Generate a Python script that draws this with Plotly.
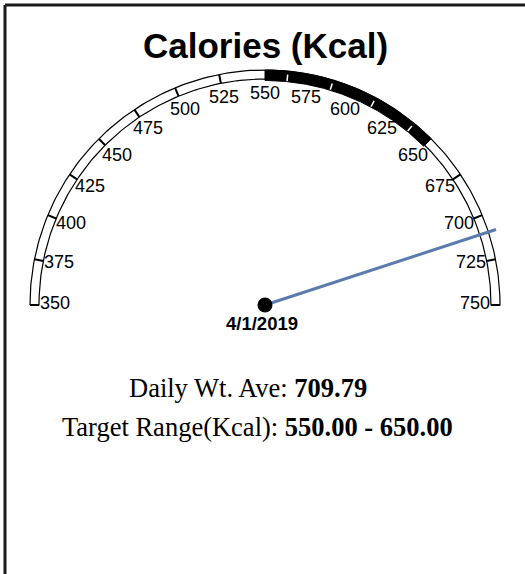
import math
import plotly.graph_objects as go

# ---- data ----
title_text = "Calories (Kcal)"
scale_min = 350
scale_max = 750
tick_values = [350, 375, 400, 425, 450, 475, 500, 525, 550, 575, 600, 625, 650, 675, 700, 725, 750]
tick_labels = ["350", "375", "400", "425", "450", "475", "500", "525", "550", "575", "600", "625", "650", "675", "700", "725", "750"]
target_range = [550, 650]
target_ticks = [562.5, 587.5, 612.5, 637.5]
daily_value = 709.79
date_label = "4/1/2019"

# ---- layout geometry (pixel space) ----
W, H = 525, 574
CX, CY = 265, 305
R_OUT, R_IN = 235, 226
R_IN_TARGET = 224.5
R_LABEL = 210
R_NEEDLE = 243


def ang(v):
    return math.pi * (1 - (v - scale_min) / (scale_max - scale_min))


def pt(v, r):
    a = ang(v)
    return CX + r * math.cos(a), CY - r * math.sin(a)


def arc(v0, v1, r, n=200):
    xs, ys = [], []
    for i in range(n + 1):
        v = v0 + (v1 - v0) * i / n
        x, y = pt(v, r)
        xs.append(x)
        ys.append(y)
    return xs, ys


fig = go.Figure()

# outer band (white with black outline)
ox, oy = arc(scale_min, scale_max, R_OUT)
ix, iy = arc(scale_max, scale_min, R_IN)
fig.add_trace(go.Scatter(x=ox + ix + [ox[0]], y=oy + iy + [oy[0]], mode="lines",
                         fill="toself", fillcolor="white",
                         line=dict(color="black", width=1.2), hoverinfo="skip"))

# target band (black)
tx, ty = arc(target_range[0], target_range[1], R_OUT)
tix, tiy = arc(target_range[1], target_range[0], R_IN_TARGET)
fig.add_trace(go.Scatter(x=tx + tix + [tx[0]], y=ty + tiy + [ty[0]], mode="lines",
                         fill="toself", fillcolor="black",
                         line=dict(color="black", width=1), hoverinfo="skip"))

# black ticks in white region
bx, by = [], []
for v in tick_values:
    if target_range[0] <= v <= target_range[1]:
        continue
    x0, y0 = pt(v, R_IN)
    x1, y1 = pt(v, R_OUT)
    bx += [x0, x1, None]
    by += [y0, y1, None]
fig.add_trace(go.Scatter(x=bx, y=by, mode="lines", line=dict(color="black", width=2),
                         hoverinfo="skip"))

# white ticks in target region
wx, wy = [], []
for v in target_ticks:
    x0, y0 = pt(v, R_IN_TARGET + 0.5)
    x1, y1 = pt(v, R_IN_TARGET + 7)
    wx += [x0, x1, None]
    wy += [y0, y1, None]
fig.add_trace(go.Scatter(x=wx, y=wy, mode="lines", line=dict(color="white", width=1.5),
                         hoverinfo="skip"))

# needle
nx, ny = pt(daily_value, R_NEEDLE)
fig.add_trace(go.Scatter(x=[CX, nx], y=[CY, ny], mode="lines",
                         line=dict(color="#5B7BAF", width=3), hoverinfo="skip"))
fig.add_trace(go.Scatter(x=[CX], y=[CY], mode="markers",
                         marker=dict(color="black", size=15), hoverinfo="skip"))

annotations = []
for v, lab in zip(tick_values, tick_labels):
    x, y = pt(v, R_LABEL)
    annotations.append(dict(x=x, y=y - 2, text=lab, showarrow=False, xref="x", yref="y",
                            xanchor="center", yanchor="middle",
                            font=dict(family="Liberation Sans, Arial", size=18, color="black")))

annotations.append(dict(x=CX, y=45, text="<b>%s</b>" % title_text, showarrow=False,
                        xref="x", yref="y", xanchor="center", yanchor="middle",
                        font=dict(family="Liberation Sans, Arial", size=35, color="black")))
annotations.append(dict(x=CX - 3, y=323, text="<b>%s</b>" % date_label, showarrow=False,
                        xref="x", yref="y", xanchor="center", yanchor="middle",
                        font=dict(family="Liberation Sans, Arial", size=18.5, color="black")))
annotations.append(dict(x=CX - 17, y=388,
                        text="Daily Wt. Ave: <b>%.2f</b>" % daily_value, showarrow=False,
                        xref="x", yref="y", xanchor="center", yanchor="middle",
                        font=dict(family="Liberation Serif, Times New Roman", size=26.5, color="black")))
annotations.append(dict(x=CX - 8, y=427,
                        text="Target Range(Kcal): <b>%.2f - %.2f</b>" % (target_range[0], target_range[1]),
                        showarrow=False, xref="x", yref="y", xanchor="center", yanchor="middle",
                        font=dict(family="Liberation Serif, Times New Roman", size=26.5, color="black")))

shapes = [
    dict(type="line", xref="x", yref="y", x0=5, y0=5, x1=W, y1=5, line=dict(color="#1a1a1a", width=3)),
    dict(type="line", xref="x", yref="y", x0=5, y0=5, x1=5, y1=H, line=dict(color="#1a1a1a", width=3)),
]

fig.update_layout(
    width=W, height=H,
    margin=dict(l=0, r=0, t=0, b=0),
    paper_bgcolor="white", plot_bgcolor="white",
    showlegend=False,
    hovermode=False,
    xaxis=dict(range=[0, W], visible=False, fixedrange=True),
    yaxis=dict(range=[H, 0], visible=False, fixedrange=True),
    annotations=annotations,
    shapes=shapes,
)

fig.write_html("out.html", config={"displayModeBar": False},
               post_script="document.body.style.margin='0';document.body.style.overflow='hidden';")
